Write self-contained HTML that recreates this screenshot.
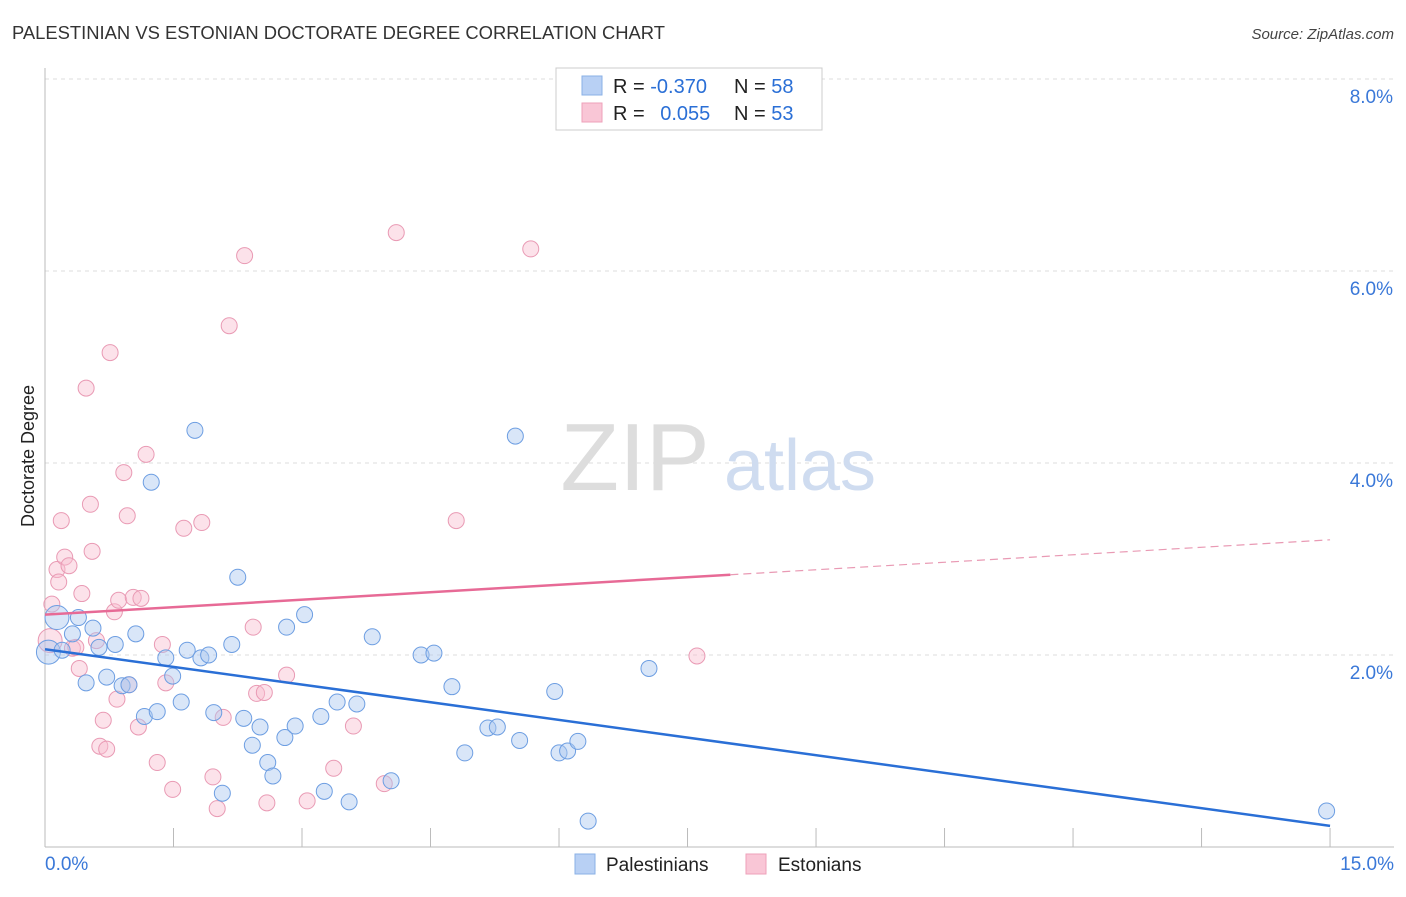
<!DOCTYPE html>
<html><head><meta charset="utf-8"><style>
body{margin:0;background:#fff;font-family:"Liberation Sans",sans-serif}
svg text{font-family:"Liberation Sans",sans-serif}
</style></head><body>
<svg id="chart" width="1406" height="892" xmlns="http://www.w3.org/2000/svg">
<text x="12" y="39" font-size="18.4" fill="#333">PALESTINIAN VS ESTONIAN DOCTORATE DEGREE CORRELATION CHART</text>
<text x="1394" y="39" font-size="15" fill="#444" text-anchor="end" font-style="italic">Source: ZipAtlas.com</text>
<text x="0" y="0" transform="translate(34,456) rotate(-90)" font-size="18" fill="#222" text-anchor="middle">Doctorate Degree</text>
<g id="grid"></g>
<g><text x="635" y="490" font-size="96" font-family="Liberation Serif" fill="#ddd" text-anchor="middle">ZIP</text><text x="800" y="490" font-size="72" fill="#cfdcf0" text-anchor="middle">atlas</text></g>
<line x1="45" y1="68" x2="45" y2="847" stroke="#bbb"/>
<line x1="45" y1="847" x2="1394" y2="847" stroke="#bbb"/>
<g id="ticks"></g>
<g id="pink"></g><g id="blue"></g><g id="trends"></g>
<g>
<rect x="556" y="68" width="266" height="62" fill="#fff" stroke="#ccc"/>
<rect x="582" y="76" width="20" height="19" fill="#b8d0f4" stroke="#8ab0e6"/>
<rect x="582" y="103" width="20" height="19" fill="#f9c6d6" stroke="#eea0ba"/>
<text x="613" y="93" font-size="20" fill="#222">R = <tspan fill="#2a6fd6">-0.370</tspan></text>
<text x="734" y="93" font-size="20" fill="#222">N = <tspan fill="#2a6fd6">58</tspan></text>
<text x="613" y="120" font-size="20" fill="#222">R = <tspan fill="#2a6fd6" dx="10">0.055</tspan></text>
<text x="734" y="120" font-size="20" fill="#222">N = <tspan fill="#2a6fd6">53</tspan></text>
</g>
<g>
<rect x="575" y="854" width="20" height="20" fill="#b8d0f4" stroke="#8ab0e6"/>
<text x="606" y="871" font-size="19" fill="#222">Palestinians</text>
<rect x="746" y="854" width="20" height="20" fill="#f9c6d6" stroke="#eea0ba"/>
<text x="778" y="871" font-size="19" fill="#222">Estonians</text>
</g>
</svg>
<script>
const xTicks=[0,1.5,3,4.5,6,7.5,9,10.5,12,13.5,15];
const yTicks=[2,4,6,8];
const blueX=[0.14,0.04,0.2,0.32,0.39,0.48,0.56,0.63,0.72,0.82,0.9,0.98,1.06,1.16,1.31,1.41,1.49,1.59,1.66,1.75,1.82,1.91,1.24,1.97,2.07,2.18,2.25,2.32,2.42,2.51,2.6,2.66,2.8,2.82,2.92,3.03,3.22,3.26,3.41,3.55,3.64,3.82,4.04,4.39,4.54,4.75,4.9,5.17,5.28,5.49,5.54,5.95,6.0,6.1,6.22,6.34,7.05,14.96];
const blueY=[2.39,2.03,2.05,2.22,2.39,1.71,2.28,2.08,1.77,2.11,1.68,1.69,2.22,1.36,1.41,1.97,1.78,1.51,2.05,4.34,1.97,2.0,3.8,1.40,0.56,2.11,2.81,1.34,1.06,1.25,0.88,0.74,1.14,2.29,1.26,2.42,1.36,0.58,1.51,0.47,1.49,2.19,0.69,2.0,2.02,1.67,0.98,1.24,1.25,4.28,1.11,1.62,0.98,1.0,1.10,0.27,1.86,0.375];
const pinkX=[0.06,0.08,0.14,0.16,0.19,0.23,0.28,0.32,0.36,0.40,0.43,0.48,0.53,0.55,0.6,0.64,0.68,0.72,0.76,0.81,0.84,0.86,0.92,0.96,0.98,1.03,1.09,1.12,1.18,1.31,1.37,1.41,1.49,1.62,1.83,1.96,2.01,2.08,2.15,2.33,2.43,2.47,2.56,2.59,2.82,3.06,3.37,3.6,3.96,4.1,4.8,5.67,7.61];
const pinkY=[2.15,2.53,2.89,2.76,3.4,3.02,2.93,2.07,2.08,1.86,2.64,4.78,3.57,3.08,2.15,1.05,1.32,1.02,5.15,2.45,1.54,2.57,3.9,3.45,1.69,2.6,1.25,2.59,4.09,0.88,2.11,1.71,0.6,3.32,3.38,0.73,0.4,1.35,5.43,6.16,2.29,1.6,1.61,0.46,1.79,0.48,0.82,1.26,0.66,6.4,3.4,6.23,1.99];
const blueTrend=[2.06,0.22];
const pinkTrend=[2.42,3.2];
const pinkSolidEnd=8;
const X=v=>45+v*85.67, Y=v=>847-v*96;
const NS="http://www.w3.org/2000/svg";
function mk(t,a,p){const e=document.createElementNS(NS,t);for(const k in a)e.setAttribute(k,a[k]);document.getElementById(p).appendChild(e);return e;}
yTicks.forEach(v=>{
 const l=mk('line',{x1:45,x2:1394,y1:Y(v),y2:Y(v),stroke:'#ddd','stroke-dasharray':'4,4'},'grid');
 
 
 const t=mk('text',{x:1393,y:Y(v)+24,'font-size':19,fill:'#3a78d8','text-anchor':'end'},'ticks');t.textContent=v.toFixed(1)+'%';
 
 
});
xTicks.forEach(v=>{
 const l=mk('line',{x1:X(v),x2:X(v),y1:828,y2:847,stroke:'#bbb'},'ticks');
 
 
});
[[0,'start',45],[15,'end',1394]].forEach(([v,a,x])=>{
 const t=mk('text',{x:x,y:870,'font-size':19,fill:'#3a78d8','text-anchor':a},'ticks');t.textContent=v.toFixed(1)+'%';
 
 
});
pinkX.forEach((v,i)=>{
 const c=mk('circle',{cx:X(v),cy:Y(pinkY[i]),r:i==0?12:8,fill:'rgba(248,190,208,0.45)',stroke:'#e99ab4','stroke-width':1},'pink');
 
 
});
blueX.forEach((v,i)=>{
 const c=mk('circle',{cx:X(v),cy:Y(blueY[i]),r:i<2?12:8,fill:'rgba(170,200,240,0.45)',stroke:'#6d9ee2','stroke-width':1},'blue');
 
 
});
const bl=mk('line',{x1:X(0),y1:Y(blueTrend[0]),x2:X(15),y2:Y(blueTrend[1]),stroke:'#2a6fd6','stroke-width':2.5},'trends');


const pm=pinkTrend[0]+(pinkTrend[1]-pinkTrend[0])*pinkSolidEnd/15;
const pl=mk('line',{x1:X(0),y1:Y(pinkTrend[0]),x2:X(pinkSolidEnd),y2:Y(pm),stroke:'#e76a96','stroke-width':2.5},'trends');


const pd=mk('line',{x1:X(pinkSolidEnd),y1:Y(pm),x2:X(15),y2:Y(pinkTrend[1]),stroke:'#e99ab4','stroke-width':1.2,'stroke-dasharray':'8,5'},'trends');


</script>
</body></html>
